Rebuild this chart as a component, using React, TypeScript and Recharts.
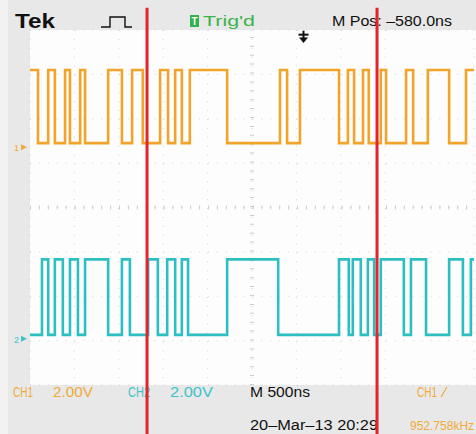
import { LineChart, Line, XAxis, YAxis, CartesianGrid, ReferenceLine, ReferenceDot } from "recharts";

// time axis in ns from the left edge of the screen (500 ns/div, 10 div)
const timeTicks = [0, 500, 1000, 1500, 2000, 2500, 3000, 3500, 4000, 4500, 5000];
// vertical axis in divisions (8 div)
const divTicks = [-4, -3, -2, -1, 0, 1, 2, 3, 4];

// edge times (ns), level toggles at each one
const ch1Edges = [
  90, 205, 280, 395, 450, 565, 620, 880, 1035, 1150, 1270, 1465, 1555, 1635, 1710, 1800,
  2220, 2815, 2895, 3040, 3480, 3580, 3650, 3750, 3815, 3950, 4010, 4235, 4315, 4480, 4720, 4910,
];
const ch2Edges = [
  135, 205, 280, 370, 450, 540, 620, 880, 1035, 1125, 1330, 1440, 1545, 1635, 1710, 1780,
  2220, 2795, 3480, 3590, 3635, 3725, 3805, 3875, 3950, 4210, 4290, 4460, 4720, 4875, 4965,
];
const ch1StartsHigh = true;
const ch2StartsHigh = false;
const ch1Levels = [0, 3.3]; // volts, low / high
const ch2Levels = [0, 3.4];
const ch1Offset = 1.45; // divisions
const ch2Offset = -2.87;
const voltsPerDiv = 2;

const cursorTimes = [1318, 3908];
const triggerTime = 3080; // M Pos -580ns from centre

const ORANGE = "#F2A42A";
const TEAL = "#2DBEC1";
const FONT = "'Liberation Sans', Arial, sans-serif";

function buildTrace(edges: number[], startsHigh: boolean, levels: number[], offset: number) {
  let high = startsHigh;
  const toDiv = (h: boolean) => (h ? levels[1] : levels[0]) / voltsPerDiv + offset;
  const pts = [{ t: 0, v: toDiv(high) }];
  edges.forEach((e) => {
    high = !high;
    pts.push({ t: e, v: toDiv(high) });
  });
  pts.push({ t: 5000, v: toDiv(high) });
  return pts;
}

const ch1Data = buildTrace(ch1Edges, ch1StartsHigh, ch1Levels, ch1Offset);
const ch2Data = buildTrace(ch2Edges, ch2StartsHigh, ch2Levels, ch2Offset);

const channelMarker = (label: string, color: string) => (props: any) => {
  const { cx, cy } = props;
  return (
    <g>
      <text x={cx - 16} y={cy + 8} fontSize={9} fill={color} fontFamily={FONT}>
        {label}
      </text>
      <path d={`M${cx - 9},${cy + 1} L${cx - 3},${cy + 4} L${cx - 9},${cy + 7} Z`} fill={color} />
    </g>
  );
};

const triggerArrow = (props: any) => {
  const { cx, cy } = props;
  return (
    <g stroke="#111" strokeWidth={2} fill="#111">
      <line x1={cx - 5} y1={cy - 2} x2={cx + 5} y2={cy - 2} />
      <line x1={cx} y1={cy - 6} x2={cx} y2={cy + 2} />
      <path d={`M${cx - 4},${cy + 1} L${cx + 4},${cy + 1} L${cx},${cy + 6} Z`} strokeWidth={0.5} />
    </g>
  );
};

function Screen() {
  return (
    <svg width={476} height={434} style={{ position: "absolute", left: 0, top: 0 }} fontFamily={FONT}>
      <rect width={476} height={434} fill="#e8e8e8" />
      <rect x={0} y={0} width={8} height={434} fill="#f2f2f2" />
      <rect x={30} y={30} width={446} height={355} fill="#fdfdfd" />

      <text x={15} y={28} fontSize={20} fontWeight="bold" fill="#111" textLength={40} lengthAdjust="spacingAndGlyphs">
        Tek
      </text>
      <path d="M101,27 H110 V17 H125 V27 H132" fill="none" stroke="#111" strokeWidth={1.4} />
      <rect x={190} y={15} width={9} height={12} fill="#2fb34a" />
      <text x={191.5} y={25} fontSize={10} fontWeight="bold" fill="#fff">T</text>
      <text x={203} y={26} fontSize={15} fill="#3cb44b" textLength={52} lengthAdjust="spacingAndGlyphs">
        Trig'd
      </text>
      <text x={332} y={26} fontSize={15} fill="#111" textLength={120} lengthAdjust="spacingAndGlyphs">
        M Pos: –580.0ns
      </text>

      <text x={13} y={397} fontSize={14} fill="#f0aa3a" textLength={20} lengthAdjust="spacingAndGlyphs">CH1</text>
      <text x={53} y={397} fontSize={14} fill="#f0aa3a" textLength={40} lengthAdjust="spacingAndGlyphs">2.00V</text>
      <text x={128} y={397} fontSize={14} fill="#3cc4c8" textLength={22} lengthAdjust="spacingAndGlyphs">CH2</text>
      <text x={170} y={397} fontSize={14} fill="#3cc4c8" textLength={43} lengthAdjust="spacingAndGlyphs">2.00V</text>
      <text x={250} y={397} fontSize={14} fill="#111" textLength={60} lengthAdjust="spacingAndGlyphs">M 500ns</text>
      <text x={250} y={430} fontSize={14} fill="#111" textLength={128} lengthAdjust="spacingAndGlyphs">
        20–Mar–13 20:29
      </text>
      <text x={417} y={397} fontSize={14} fill="#f0aa3a" textLength={20} lengthAdjust="spacingAndGlyphs">CH1</text>
      <path d="M441,397 L447,387" stroke="#f0aa3a" strokeWidth={1.2} />
      <text x={410} y={430} fontSize={12} fill="#f0aa3a">
        952.758kHz
      </text>
    </svg>
  );
}

export default function App() {
  return (
    <div style={{ position: "fixed", left: 0, top: 0, width: 476, height: 434, overflow: "hidden" }}>
      <Screen />
      <div style={{ position: "absolute", left: 0, top: 0 }}>
        <LineChart width={476} height={434} margin={{ top: 30, right: 2, bottom: 49, left: 30 }}>
          <XAxis dataKey="t" type="number" domain={[0, 5000]} ticks={timeTicks} hide allowDataOverflow />
          <YAxis type="number" domain={[-4, 4]} ticks={divTicks} hide allowDataOverflow />
          <CartesianGrid stroke="#d2d2d2" strokeDasharray="1 7.9" />
          <ReferenceLine x={2500} stroke="#cccccc" strokeWidth={4} strokeDasharray="1 7.9" />
          <ReferenceLine y={0} stroke="#cccccc" strokeWidth={4} strokeDasharray="1 7.9" />

          <Line data={ch1Data} dataKey="v" type="stepAfter" stroke={ORANGE} strokeWidth={2.6} dot={false} isAnimationActive={false} />
          <Line data={ch2Data} dataKey="v" type="stepAfter" stroke={TEAL} strokeWidth={2.6} dot={false} isAnimationActive={false} />

          <ReferenceDot x={0} y={ch1Offset} ifOverflow="visible" shape={channelMarker("1", "#f0aa3a")} />
          <ReferenceDot x={0} y={ch2Offset} ifOverflow="visible" shape={channelMarker("2", "#3cc4c8")} />
          <ReferenceDot x={triggerTime} y={3.85} ifOverflow="visible" shape={triggerArrow} />

          {cursorTimes.map((t) => (
            <ReferenceLine
              key={t}
              segment={[{ x: t, y: 4.5 }, { x: t, y: -5.2 }]}
              ifOverflow="visible"
              stroke="#E2252C"
              strokeWidth={3}
            />
          ))}
        </LineChart>
      </div>
    </div>
  );
}
